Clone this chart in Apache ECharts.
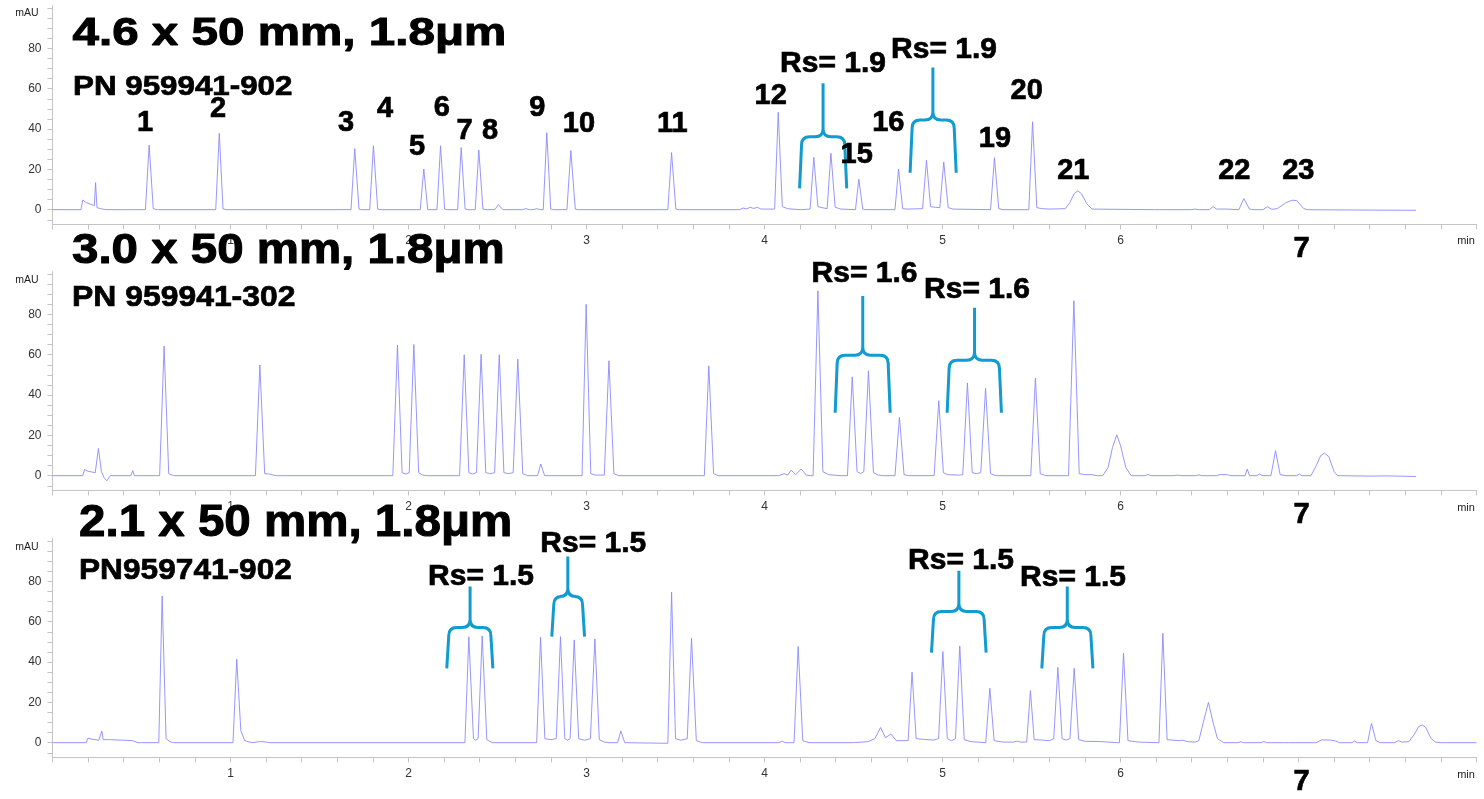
<!DOCTYPE html>
<html>
<head>
<meta charset="utf-8">
<script src="https://cdn.jsdelivr.net/npm/echarts@6.0.0/dist/echarts.min.js"></script>
<style>
html,body{margin:0;padding:0;background:#fff;}
#chart{width:1484px;height:799px;}
</style>
</head>
<body>
<div id="chart"></div>
<script>
// ---------- DATA ----------
// chromatogram vertices [time (min), absorbance (mAU)]
const trace46 = [
 [0,0],[0.16,0],[0.17,4.8],[0.19,3.5],[0.235,2],[0.242,13.4],[0.25,1],[0.27,0.5],[0.3,0],
 [0.41,0],[0.416,0.6],[0.425,0],
 [0.522,0],[0.543,32],[0.566,0.5],[0.59,0],
 [0.917,0],[0.937,37.9],[0.958,0.4],[0.98,0],[1.03,0],[1.04,0.6],[1.06,0],
 [1.677,0],[1.698,30.3],[1.722,0.3],[1.735,0],
 [1.782,0],[1.803,31.7],[1.827,0.3],[1.845,0],
 [2.066,0],[2.086,20.2],[2.108,0],
 [2.16,0],[2.18,31.7],[2.203,0.3],[2.22,0],
 [2.276,0],[2.296,30.8],[2.318,0.4],[2.335,0],
 [2.375,0],[2.395,29.6],[2.418,0.3],[2.435,0],
 [2.485,0],[2.505,2.5],[2.53,0],
 [2.64,0],[2.66,0.5],[2.68,0],[2.7,0],[2.72,0.5],[2.74,0],
 [2.757,0],[2.777,38.2],[2.799,0.3],[2.815,0],
 [2.89,0],[2.912,29.3],[2.937,0.3],[2.955,0],
 [3.457,0],[3.478,28.3],[3.502,0.3],[3.52,0],
 [3.86,0],[3.88,0.8],[3.9,0.4],[3.92,1.2],[3.94,0.6],[3.96,1.2],[3.98,0.3],
 [4.057,0.3],[4.077,48.3],[4.1,1.5],[4.13,0.5],[4.2,0],
 [4.256,0.3],[4.277,26],[4.3,1.5],[4.325,1.0],
 [4.352,0.5],[4.373,28],[4.397,1.2],[4.43,0.3],
 [4.511,0],[4.53,15.1],[4.552,0.3],[4.57,0],
 [4.733,0],[4.753,20.2],[4.776,0.5],[4.8,0.3],
 [4.888,0.5],[4.91,24.5],[4.933,1.5],[4.96,1.2],
 [4.985,1],[5.007,23.7],[5.032,1],[5.06,0.3],
 [5.27,0],[5.292,25.8],[5.316,0.5],[5.34,0],
 [5.485,0],[5.506,43.6],[5.53,1],[5.56,0.5],[5.6,0.3],
 [5.69,0.5],[5.715,3.5],[5.74,8],[5.76,9.3],[5.78,8],[5.81,3],[5.84,0.3],
 [6.19,0],[6.2,0.3],[6.22,0],[6.4,0],[6.42,0.3],[6.44,0],[6.5,0],[6.52,1.5],[6.54,0.3],[6.6,0.3],
 [6.665,0],[6.693,5.5],[6.725,0.3],[6.75,0],
 [6.8,0],[6.826,1.5],[6.85,0.2],[6.88,0.5],
 [6.93,3.5],[6.965,4.7],[6.99,4.5],[7.03,0.5],[7.05,0],
 [7.2,-0.1],[7.4,-0.2],[7.66,-0.3]
];
const trace30 = [
 [0,0],[0.17,0],[0.18,3.1],[0.2,2.2],[0.24,1.5],[0.258,13.5],[0.275,2],[0.29,-1],[0.305,-2.5],[0.325,0],
 [0.44,0],[0.451,2.5],[0.46,0],
 [0.602,0],[0.627,64.3],[0.653,1],[0.68,0],
 [1.14,0],[1.165,54.9],[1.192,1],[1.22,0.8],[1.24,0.3],[1.26,0],
 [1.912,0],[1.938,64.8],[1.964,1.5],[1.985,0.8],[2.004,1.5],
 [2.030,65.1],[2.057,1.5],[2.08,0.3],[2.1,0],
 [2.287,0],[2.313,60],[2.339,1.5],[2.36,0.8],[2.382,1.5],
 [2.408,60.2],[2.434,1.5],[2.46,1],[2.484,1.5],
 [2.51,60],[2.536,1.5],[2.562,1],[2.588,1.5],
 [2.614,57.8],[2.642,1],[2.67,0],
 [2.725,0],[2.743,5.8],[2.765,0],
 [2.975,0],[2.998,85],[3.024,1],[3.05,0.3],[3.1,0.3],
 [3.126,57],[3.154,1],[3.18,0],
 [3.662,0],[3.687,54.5],[3.714,1],[3.74,0],
 [4.08,0],[4.11,1],[4.13,0.3],[4.15,2.8],[4.175,0.5],[4.206,3.3],[4.235,0.3],[4.26,0],
 [4.273,0],[4.30,91.7],[4.328,2],[4.36,0.5],[4.43,0],
 [4.466,0],[4.493,49],[4.52,2],[4.54,1],[4.558,2],
 [4.584,52],[4.612,1.5],[4.64,0.3],[4.67,0],
 [4.733,0],[4.758,29],[4.784,0.5],[4.81,0],
 [4.953,0],[4.979,37.2],[5.005,1.5],[5.03,0.5],[5.09,0.3],
 [5.114,0.5],[5.14,46],[5.167,1.5],[5.19,1],[5.215,1.5],
 [5.242,43.3],[5.27,1],[5.3,0],
 [5.496,0],[5.522,48.4],[5.549,1],[5.58,0],
 [5.708,0],[5.738,86.8],[5.768,1],[5.8,0.5],[5.84,0.5],[5.87,0],
 [5.9,0],[5.93,4],[5.955,14],[5.979,20.3],[6.0,15],[6.03,4],[6.06,0],
 [6.14,0],[6.155,0.6],[6.17,0],[6.3,0],[6.32,0.3],[6.34,0],[6.42,0],[6.44,0.4],[6.46,0],[6.54,0],[6.56,0.6],[6.6,0.5],[6.62,0],
 [6.7,0],[6.712,3.3],[6.725,0],[6.765,0],[6.78,0.8],[6.8,0],
 [6.845,0],[6.871,12.4],[6.897,0.5],[6.93,0],
 [6.99,0],[7.005,0.8],[7.02,0],
 [7.07,0],[7.1,5],[7.125,10],[7.146,11.2],[7.17,9.5],[7.2,2],[7.22,0],
 [7.4,-0.2],[7.5,-0.1],[7.66,-0.4]
];
const trace21 = [
 [0,0],[0.19,0],[0.198,2.2],[0.22,1.8],[0.26,1.2],[0.277,5.8],[0.285,1.5],[0.32,1.5],[0.38,1.3],[0.45,1],[0.48,0],[0.489,-0.3],[0.5,0],
 [0.597,0],[0.616,72.8],[0.638,2],[0.66,0.5],[0.68,0],
 [1.014,0],[1.035,41.4],[1.058,6],[1.08,1],[1.12,0],[1.17,0.6],[1.18,1],[1.2,0.3],[1.22,0],
 [2.317,0],[2.339,52.6],[2.365,2],[2.378,1.2],[2.391,2],
 [2.414,53],[2.44,1.5],[2.47,0],
 [2.72,0],[2.742,52.3],[2.766,2],[2.8,1.5],[2.83,2],
 [2.854,52.6],[2.878,2],[2.893,1.2],[2.908,2],
 [2.931,51],[2.956,2],[2.99,1.2],[3.022,2],
 [3.047,51.5],[3.072,1.5],[3.1,0.3],[3.12,0],
 [3.175,0],[3.193,5.8],[3.215,0],
 [3.457,-0.3],[3.478,74.7],[3.5,2],[3.53,1.2],[3.566,2],
 [3.59,51.8],[3.617,1],[3.65,0],
 [4.08,0],[4.1,0.7],[4.12,0],[4.14,0],
 [4.166,0],[4.189,47.7],[4.215,1],[4.25,0],
 [4.5,0],[4.58,0.5],[4.62,2],
 [4.652,7.5],[4.68,2.5],[4.711,4.3],[4.74,1],
 [4.807,1],[4.829,35],[4.852,2],[4.9,1.6],[4.95,1.3],[4.978,2],
 [5.002,45.2],[5.027,2],[5.05,1],[5.073,2],
 [5.097,48],[5.122,1.5],[5.16,0.5],[5.2,0.3],
 [5.243,0],[5.266,27],[5.29,1],[5.34,0.3],
 [5.40,0.3],[5.42,0.8],[5.44,0.3],
 [5.473,0.3],[5.494,25.8],[5.515,1.5],[5.56,1.3],[5.6,1],[5.625,2],
 [5.648,37.4],[5.672,2],[5.695,1.3],[5.716,2],
 [5.74,36.9],[5.765,1.5],[5.8,0.7],[5.9,0.5],[5.98,0],
 [5.994,0],[6.017,44.4],[6.042,1],[6.1,0.3],[6.2,0],
 [6.216,0],[6.238,54.3],[6.262,1.5],[6.33,1],[6.35,1.2],[6.38,0.5],[6.42,0.3],
 [6.44,1],[6.465,10],[6.494,20],[6.52,10],[6.545,2],[6.58,0],
 [6.66,0],[6.675,0.5],[6.69,0],[6.79,0],[6.805,0.6],[6.82,0],[6.92,0],[6.93,0.5],[6.945,0],
 [7.1,0],[7.13,1.4],[7.18,1.3],[7.21,0.8],[7.23,0],[7.3,0],[7.315,0.8],[7.33,0],
 [7.388,0],[7.41,9.6],[7.435,1],[7.46,0],
 [7.54,0],[7.562,1],[7.58,0.3],
 [7.62,0.5],[7.65,4],[7.675,8],[7.695,8.8],[7.715,7.5],[7.745,2],[7.77,0.3],[7.8,0],
 [8.0,0]
];
// resolution brackets: [leftTime, rightTime, legBottom mAU, bar mAU, tip mAU, centerTime]
const brackets46 = [[4.197,4.462,10.6,36.2,62.7,4.329],[4.818,5.077,18.3,44.5,70.6,4.946]];
const brackets30 = [[4.397,4.706,31.2,59.8,89.1,4.552],[5.026,5.331,31.2,57.3,83.3,5.180]];
const brackets21 = [[2.215,2.474,36.9,57.1,77.5,2.346],[2.805,2.989,52.6,72.5,92.4,2.895],
                    [4.938,5.245,44.7,65.1,85.3,5.092],[5.558,5.845,36.9,57.1,77.5,5.701]];
const titles = ['4.6 x 50 mm, 1.8\u03bcm','3.0 x 50 mm, 1.8\u03bcm','2.1 x 50 mm, 1.8\u03bcm'];
const partNumbers = ['PN 959941-902','PN 959941-302','PN959741-902'];
const peakNumbers = ['1','2','3','4','5','6','7','8','9','10','11','12','15','16','19','20','21','22','23'];
const rsValues = [['Rs= 1.9','Rs= 1.9'],['Rs= 1.6','Rs= 1.6'],['Rs= 1.5','Rs= 1.5','Rs= 1.5','Rs= 1.5']];
const xTicks = [1,2,3,4,5,6,7];
const yTickLabels = [0,20,40,60,80];
const yMinorTicks = [-5,0,5,10,15,20,25,30,35,40,45,50,55,60,65,70,75,80,85,90,95,100];

// ---------- LAYOUT ----------
const gridTops = [5.7, 271.7, 538.7];
const gridH = 218.7;
const traces = [trace46, trace30, trace21];
const brackets = [brackets46, brackets30, brackets21];

const ARIAL = '"Liberation Sans", Arial, sans-serif';
const grids = [], xAxes = [], yAxes = [], series = [];
for (let i = 0; i < 3; i++) {
  grids.push({left: 52.5, right: 7.5, top: gridTops[i], height: gridH, containLabel: false});
  xAxes.push({
    type: 'value', gridIndex: i, min: 0, max: 8, interval: 1,
    axisLine: {show: true, onZero: false, lineStyle: {color: '#c4c4c4', width: 1}},
    axisTick: {show: true, length: 5, lineStyle: {color: '#c4c4c4'}},
    minorTick: {show: true, splitNumber: 5, length: 5, lineStyle: {color: '#c4c4c4'}},
    splitLine: {show: false},
    axisLabel: {
      margin: 10, color: '#333', fontSize: 12, fontFamily: ARIAL,
      formatter: function (v) {
        if (xTicks.indexOf(v) < 0) return '';
        if (v === 7) return '{b|7}';
        return String(v);
      },
      rich: {b: {fontSize: 29, fontWeight: 'bold', color: '#000', fontFamily: ARIAL,
                 textBorderColor: '#000', textBorderWidth: 0.7, padding: [0, 0, 0, 6]}}
    }
  });
  yAxes.push({
    type: 'value', gridIndex: i, min: -7.3, max: 101.2,
    axisLine: {show: true, lineStyle: {color: '#c4c4c4', width: 1}},
    axisTick: {show: true, length: 5, customValues: yMinorTicks, lineStyle: {color: '#c4c4c4'}},
    splitLine: {show: false},
    axisLabel: {margin: 11, color: '#333', fontSize: 12, fontFamily: ARIAL, customValues: yTickLabels}
  });
  series.push({
    type: 'line', xAxisIndex: i, yAxisIndex: i, data: traces[i],
    showSymbol: false, symbol: 'none', silent: true,
    lineStyle: {color: '#8a8aff', width: 0.9}
  });
  series.push({
    type: 'custom', xAxisIndex: i, yAxisIndex: i, data: brackets[i], silent: true,
    encode: {x: [0, 1, 5], y: [2, 3, 4]},
    renderItem: function (params, api) {
      const L = api.coord([api.value(0), api.value(2)]);
      const R = api.coord([api.value(1), api.value(2)]);
      const B = api.coord([api.value(5), api.value(3)]);
      const T = api.coord([api.value(5), api.value(4)]);
      const xl = L[0], xr = R[0], yb = L[1], yBar = B[1], xc = B[0], yT = T[1];
      const r = 8;
      const d =
        'M' + xl + ' ' + yb + ' L' + (xl + 2) + ' ' + (yBar + r) +
        ' Q' + (xl + 2) + ' ' + yBar + ' ' + (xl + 2 + r) + ' ' + yBar +
        ' L' + (xc - r) + ' ' + yBar + ' Q' + xc + ' ' + yBar + ' ' + xc + ' ' + (yBar - r) +
        ' L' + xc + ' ' + yT +
        ' M' + xr + ' ' + yb + ' L' + (xr - 2) + ' ' + (yBar + r) +
        ' Q' + (xr - 2) + ' ' + yBar + ' ' + (xr - 2 - r) + ' ' + yBar +
        ' L' + (xc + r) + ' ' + yBar + ' Q' + xc + ' ' + yBar + ' ' + xc + ' ' + (yBar - r);
      return {type: 'path', shape: {pathData: d},
              style: {stroke: '#119bce', lineWidth: 3, fill: null}};
    }
  });
}

// ---------- TEXT ANNOTATIONS ----------
const graphic = [];
function txt(x, y, s, size, opt) {
  opt = opt || {};
  const st = {text: s, fontSize: size, fontWeight: opt.w || 'normal', fontFamily: ARIAL,
              fill: opt.c || '#000', align: opt.a || 'center', verticalAlign: 'middle'};
  if (opt.w === 'bold') { st.stroke = '#000'; st.lineWidth = opt.lw || 0.7; }
  graphic.push({type: 'text', x: x, y: y, scaleX: opt.sx || 1, scaleY: opt.sy || 1, z: 100, style: st});
}
// titles and part numbers
const titlePos = [[72.5, 34, 39, 1.22], [72, 251, 42, 1.13], [79, 523.5, 44, 1.08]];
const pnPos = [[73, 87.5, 27, 1.16], [72, 298, 29, 1.1], [79, 571, 30, 1.055]];
for (let i = 0; i < 3; i++) {
  txt(titlePos[i][0], titlePos[i][1], titles[i], titlePos[i][2], {w: 'bold', a: 'left', sx: titlePos[i][3], lw: 1});
  txt(pnPos[i][0], pnPos[i][1], partNumbers[i], pnPos[i][2], {w: 'bold', a: 'left', sx: pnPos[i][3]});
}
// unit labels
const mauY = [13, 280, 547], minY = [241, 508, 775];
for (let i = 0; i < 3; i++) {
  txt(27, mauY[i], 'mAU', 10.5, {c: '#222'});
  txt(1466, minY[i], 'min', 11, {c: '#222'});
}
// peak numbers (top chromatogram)
const peakPos = [[145,123],[218,109],[346,123],[385,109],[417,146.5],[441.7,108],[464.5,131],[490,131],
  [537.3,107.5],[579,124],[672.3,124],[770.7,96],[856.7,155],[888.3,123],[995,139],[1026.7,91],
  [1073.3,171],[1234.3,171],[1298.3,171]];
peakNumbers.forEach(function (s, k) { txt(peakPos[k][0], peakPos[k][1], s, 29, {w: 'bold'}); });
// resolution labels
const rsPos = [[[833,64],[944,50]], [[864.5,273.5],[977,290]], [[481,577],[593.3,544],[961,561],[1073,577.5]]];
for (let i = 0; i < 3; i++) {
  rsValues[i].forEach(function (s, k) { txt(rsPos[i][k][0], rsPos[i][k][1], s, 30, {w: 'bold'}); });
}

const chart = echarts.init(document.getElementById('chart'), null, {renderer: 'canvas'});
chart.setOption({
  animation: false,
  backgroundColor: '#fff',
  grid: grids, xAxis: xAxes, yAxis: yAxes, series: series, graphic: graphic
});
</script>
</body>
</html>
